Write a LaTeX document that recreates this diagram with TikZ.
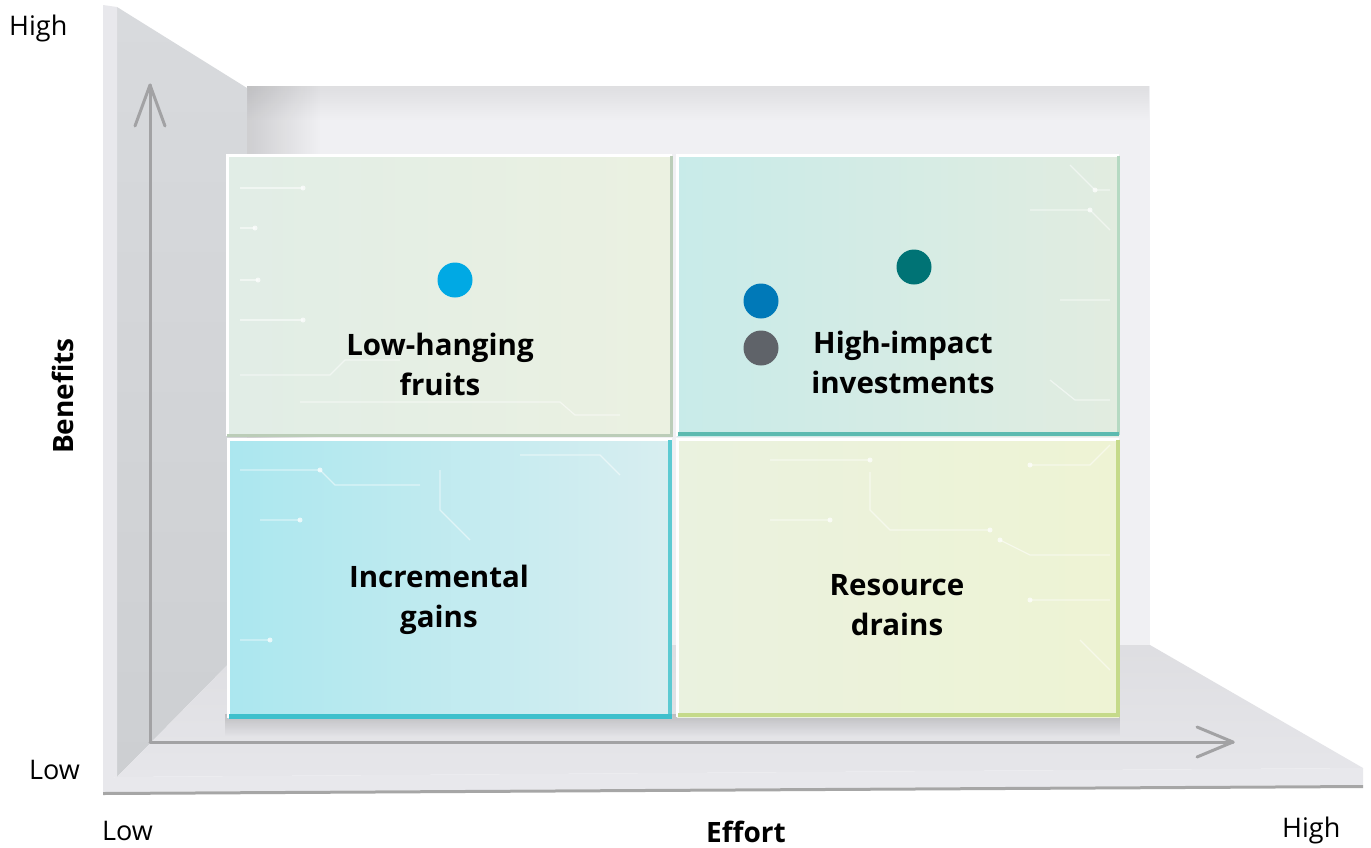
\documentclass[tikz,border=0pt]{standalone}
\usepackage{fontspec}
\setmainfont{Open Sans}
\usetikzlibrary{fadings}
\definecolor{wallback}{HTML}{F0F0F3}
\definecolor{wallleft}{HTML}{D8DADD}
\definecolor{wallleftdark}{HTML}{CDCFD2}
\definecolor{floorc}{HTML}{E6E6EA}
\definecolor{strip}{HTML}{E8E8EC}
\definecolor{axisgray}{HTML}{A2A2A4}
\definecolor{dotA}{HTML}{00A9E4}
\definecolor{dotB}{HTML}{0079B8}
\definecolor{dotC}{HTML}{007375}
\definecolor{dotD}{HTML}{5F6369}
\definecolor{tlL}{HTML}{E1EDE6}\definecolor{tlR}{HTML}{EBF1E1}
\definecolor{trL}{HTML}{C8EBE9}\definecolor{trR}{HTML}{E2ECE0}
\definecolor{blL}{HTML}{ABE7EF}\definecolor{blR}{HTML}{D8EEF0}
\definecolor{brL}{HTML}{EAF2DF}\definecolor{brR}{HTML}{EEF3D4}
\definecolor{tlEdge}{HTML}{BBCDB8}
\definecolor{trEdge}{HTML}{5CBAB0}\definecolor{trSide}{HTML}{B5D9C2}
\definecolor{blEdge}{HTML}{3EC0CC}\definecolor{blSide}{HTML}{5CCAD2}
\definecolor{brEdge}{HTML}{C5DA8A}
\begin{document}
\begin{tikzpicture}[x=1pt,y=-1pt,
  axis/.style={draw=axisgray,line width=3pt,line cap=round,line join=round},
  dot/.style={circle,minimum size=35pt,inner sep=0pt},
  qlabel/.style={font=\bfseries\fontsize{29.5}{40}\selectfont,align=center,text=black},
  tick/.style={font=\fontsize{27}{32}\selectfont,text=black,inner sep=0pt},
  axlabel/.style={font=\bfseries\fontsize{28}{32}\selectfont,text=black,inner sep=0pt},
  circ/.style={draw=white,opacity=0.5,line width=1.2pt},
  hilite/.style={draw=white,line width=3pt},
  cdot/.style={fill=white,opacity=0.7}]
\useasboundingbox (0,0) rectangle (1371,847);
\fill[white] (0,0) rectangle (1371,847);

% ---- room ----
\fill[wallback] (247,86) rectangle (1150,645);
\fill[black,opacity=0.07,path fading=south] (247,86) rectangle (1150,120);
\fill[black,opacity=0.14,path fading=east] (247,86) rectangle (320,645);
\shade[top color=wallleft,bottom color=wallleftdark] (117,7) -- (247,88) -- (247,645) -- (117,777) -- cycle;
\shade[top color=floorc!92!gray,bottom color=floorc] (117,777) -- (247,645) -- (1150,645) -- (1363,768) -- cycle;
\fill[strip] (103,779) -- (117,777) -- (1363,768) -- (1363,785) -- (103,792) -- cycle;
\fill[strip] (103,5) -- (117,7) -- (117,777) -- (103,780) -- cycle;
\fill[gray!70] (103,792) -- (1363,785) -- (1363,788) -- (103,795) -- cycle;
\fill[black,opacity=0.16,path fading=south] (226,714) rectangle (1122,736);

% ---- axes ----
\coordinate (origin) at (150,742);
\coordinate (ytip) at (150,85);
\coordinate (xtip) at (1233,742);
\draw[axis] (origin) -- (ytip);
\draw[axis] (origin) -- (xtip);
\draw[axis] ([shift={(-15,41)}]ytip) -- (ytip) -- ([shift={(15,41)}]ytip);
\draw[axis] ([shift={(-36,-15)}]xtip) -- (xtip) -- ([shift={(-36,15)}]xtip);

% ---- quadrants ----
\shade[left color=tlL,right color=tlR] (227,155) rectangle (672,436);
\shade[left color=trL,right color=trR] (677,155) rectangle (1119,436);
\shade[shading angle=45,left color=blL,right color=blR] (228,439) rectangle (672,718);
\shade[left color=brL,right color=brR] (677,439) rectangle (1119,717);

% circuit decoration
\draw[circ] (240,188) -- (303,188) (240,228) -- (255,228) (240,280) -- (258,280) (240,320) -- (303,320);
\draw[circ] (240,375) -- (330,375) -- (345,360) -- (400,360) (300,402) -- (560,402) -- (575,415) -- (620,415);
\draw[circ] (1070,165) -- (1095,190) -- (1110,190) (1030,210) -- (1090,210) -- (1110,230) (1060,300) -- (1110,300) (1050,380) -- (1075,400) -- (1110,400);
\draw[circ] (240,470) -- (320,470) -- (335,485) -- (420,485) (260,520) -- (300,520) (440,470) -- (440,510) -- (470,540) (240,640) -- (270,640) (520,455) -- (600,455) -- (620,475);
\draw[circ] (770,460) -- (870,460) (770,520) -- (830,520) (870,472) -- (870,510) -- (890,530) -- (990,530) (1030,465) -- (1090,465) -- (1110,445) (1000,540) -- (1030,555) -- (1110,555) (1030,600) -- (1110,600) (1080,640) -- (1110,670);
\foreach \p in {(303,188),(255,228),(258,280),(303,320),(1095,190),(1090,210),(320,470),(300,520),(270,640),(870,460),(830,520),(990,530),(1030,465),(1030,600),(1000,540)}
  \fill[cdot] \p circle (2.5);

% bevels
\draw[hilite] (227,436) -- (227,155) -- (672,155);
\draw[hilite] (677,436) -- (677,155) -- (1119,155);
\draw[hilite] (228,718) -- (228,439) -- (672,439);
\draw[hilite] (677,717) -- (677,439) -- (1119,439);
\draw[tlEdge,line width=3pt] (227,435) -- (671,435) -- (671,156);
\draw[trSide,line width=3pt] (1118,435) -- (1118,156);
\draw[trEdge,line width=4pt] (678,434) -- (1119,434);
\draw[blSide,line width=4pt] (670,717) -- (670,440);
\draw[blEdge,line width=5pt] (229,716) -- (672,716);
\draw[brEdge,line width=4pt] (678,715) -- (1118,715) -- (1118,440);

% ---- dots ----
\node[dot,fill=dotA] (d1) at (455,280) {};
\node[dot,fill=dotC] (d2) at (914,267) {};
\node[dot,fill=dotB] (d3) at (761,301) {};
\node[dot,fill=dotD] (d4) at (761,348) {};

% ---- labels ----
\node[qlabel] (q1) at (440,364) {Low-hanging\\fruits};
\node[qlabel] (q2) at (903,362) {High-impact\\investments};
\node[qlabel] (q3) at (439,600) {Incremental\\gains};
\node[qlabel] (q4) at (897,605) {Resource\\drains};

\node[tick,anchor=base west] (yhigh) at (9,35) {High};
\node[tick,anchor=base west] (ylow) at (29,779) {Low};
\node[tick,anchor=base west] (xlow) at (102,840) {Low};
\node[tick,anchor=base west] (xhigh) at (1282,837) {High};
\node[axlabel,anchor=base] (xlab) at (746,842) {Effort};
\node[axlabel,anchor=base,rotate=90] (ylab) at (73,396) {Benefits};
\end{tikzpicture}
\end{document}
